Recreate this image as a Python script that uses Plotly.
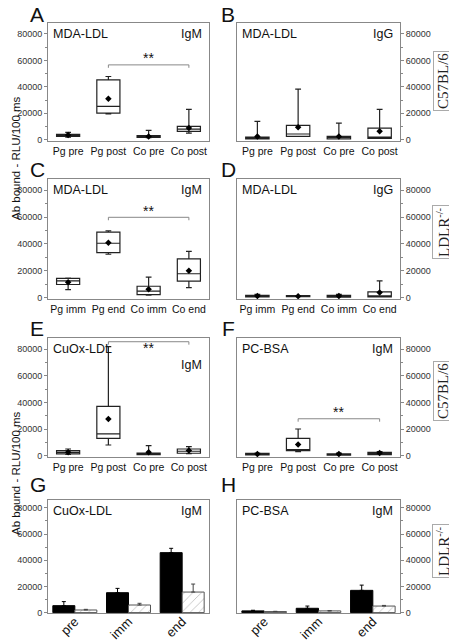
import plotly.graph_objects as go

W, H = 457, 641
OFF = 8  # page body margin: the figure is drawn 8 px in from the window corner
FONT = "Liberation Sans, Arial, sans-serif"

# categories
cats_pp = ["Pg pre", "Pg post", "Co pre", "Co post"]
cats_ie = ["Pg imm", "Pg end", "Co imm", "Co end"]
bar_cats = ["pre", "imm", "end"]

# box statistics (RLU/100 ms)
A_q1 = [2500, 20100, 1800, 6300]
A_med = [3200, 25200, 2400, 8000]
A_q3 = [4000, 45300, 3000, 10000]
A_lo = [2000, 19600, 1500, 5000]
A_hi = [5500, 47800, 7000, 23000]
A_mean = [3500, 31000, 2500, 8800]

B_q1 = [500, 2500, 500, 1000]
B_med = [1200, 4300, 1500, 2000]
B_q3 = [2000, 10800, 2500, 8800]
B_lo = [500, 2500, 500, 1000]
B_hi = [13800, 38200, 12600, 23000]
B_mean = [2500, 9500, 2500, 6300]

C_q1 = [9800, 33500, 2300, 12300]
C_med = [12500, 40500, 4800, 17800]
C_q3 = [14300, 48800, 8500, 28800]
C_lo = [6000, 32300, 1800, 7500]
C_hi = [14500, 49800, 15300, 34500]
C_mean = [11500, 40800, 6300, 20000]

D_q1 = [500, 800, 300, 500]
D_med = [1000, 1100, 1000, 1300]
D_q3 = [1800, 1500, 1800, 4300]
D_lo = [500, 800, 300, 500]
D_hi = [2500, 1500, 2500, 12500]
D_mean = [1200, 1100, 1200, 3800]

E_q1 = [1300, 13000, 800, 1800]
E_med = [2500, 16300, 1300, 3300]
E_q3 = [3800, 37000, 2000, 5000]
E_lo = [1000, 8000, 800, 1500]
E_hi = [5000, 81800, 7500, 6800]
E_mean = [2500, 27500, 2500, 3800]

F_q1 = [500, 3800, 300, 800]
F_med = [1000, 4000, 800, 1500]
F_q3 = [1800, 13000, 1300, 2500]
F_lo = [500, 3000, 300, 800]
F_hi = [2000, 20000, 2000, 3000]
F_mean = [1200, 8300, 1200, 2000]

# bar panels: mean and top of error bar
G_black = [5300, 15200, 45800]
G_black_err = [8400, 18500, 49100]
G_hatch = [2000, 5800, 15700]
G_hatch_err = [2500, 7100, 21800]

H_black = [1300, 3300, 17000]
H_black_err = [1800, 5000, 21000]
H_hatch = [800, 1300, 5000]
H_hatch_err = [1000, 1500, 5500]

# significance brackets: (from, to, level, star level)
sig_A = ("Pg post", "Co post", 56600, 61500)
sig_C = ("Pg end", "Co end", 59800, 64500)
sig_E = ("Pg post", "Co post", 85500, 80500)
sig_F = ("Pg post", "Co post", 27700, 32500)


def px(x):
    return (x - OFF) / W


def py(y):
    return 1 - (y - OFF) / H


left_x = [px(48), px(209)]
right_x = [px(237), px(400)]
rows = [(23, 141), (179, 299), (338, 457), (500, 613)]

fig = go.Figure()

box_panels = [
    (1, cats_pp, A_q1, A_med, A_q3, A_lo, A_hi, A_mean),
    (2, cats_pp, B_q1, B_med, B_q3, B_lo, B_hi, B_mean),
    (3, cats_ie, C_q1, C_med, C_q3, C_lo, C_hi, C_mean),
    (4, cats_ie, D_q1, D_med, D_q3, D_lo, D_hi, D_mean),
    (5, cats_pp, E_q1, E_med, E_q3, E_lo, E_hi, E_mean),
    (6, cats_pp, F_q1, F_med, F_q3, F_lo, F_hi, F_mean),
]

for n, cats, q1, med, q3, lo, hi, mean in box_panels:
    xa = "x" if n == 1 else f"x{n}"
    ya = "y" if n == 1 else f"y{n}"
    fig.add_trace(go.Box(
        x=cats, q1=q1, median=med, q3=q3, lowerfence=lo, upperfence=hi,
        xaxis=xa, yaxis=ya, fillcolor="white",
        line=dict(color="#222", width=1.2), whiskerwidth=0.25,
        showlegend=False, hoverinfo="skip"))
    fig.add_trace(go.Scatter(
        x=cats, y=mean, mode="markers", xaxis=xa, yaxis=ya,
        marker=dict(symbol="diamond", size=5, color="black"),
        showlegend=False, hoverinfo="skip"))

for n, sig in [(1, sig_A), (3, sig_C), (5, sig_E), (6, sig_F)]:
    xa = "x" if n == 1 else f"x{n}"
    ya = "y" if n == 1 else f"y{n}"
    c1, c2, lev, star = sig
    fig.add_trace(go.Scatter(
        x=[c1, c1, c2, c2], y=[lev - 2200, lev, lev, lev - 2200],
        mode="lines", xaxis=xa, yaxis=ya,
        line=dict(color="#888", width=1), showlegend=False, hoverinfo="skip"))
    fig.add_annotation(x=2, y=star, xref=xa, yref=ya, text="**",
                       showarrow=False, font=dict(family=FONT, size=14, color="#111"))

for n, bl, ble, ht, hte in [(7, G_black, G_black_err, G_hatch, G_hatch_err),
                            (8, H_black, H_black_err, H_hatch, H_hatch_err)]:
    xa, ya = f"x{n}", f"y{n}"
    fig.add_trace(go.Bar(
        x=bar_cats, y=bl, xaxis=xa, yaxis=ya,
        marker=dict(color="black", line=dict(color="black", width=1)),
        error_y=dict(type="data", symmetric=False,
                     array=[e - v for e, v in zip(ble, bl)],
                     arrayminus=[0] * len(bl), color="black", thickness=1, width=2),
        showlegend=False, hoverinfo="skip"))
    fig.add_trace(go.Bar(
        x=bar_cats, y=ht, xaxis=xa, yaxis=ya,
        marker=dict(color="white", line=dict(color="#555", width=1),
                    pattern=dict(shape="/", fgcolor="#888", bgcolor="white", size=6, solidity=0.15)),
        error_y=dict(type="data", symmetric=False,
                     array=[e - v for e, v in zip(hte, ht)],
                     arrayminus=[0] * len(ht), color="#444", thickness=1, width=2),
        showlegend=False, hoverinfo="skip"))

layout = dict(
    width=W, height=H, margin=dict(l=0, r=0, t=0, b=0, autoexpand=False),
    paper_bgcolor="white", plot_bgcolor="white",
    font=dict(family=FONT, color="#222"),
    boxgap=0.18, bargap=0.18, bargroupgap=0.0, barmode="group",
)

for n in range(1, 9):
    r = (n - 1) // 2
    right = n % 2 == 0
    key = "" if n == 1 else str(n)
    top, bot = rows[r]
    is_bar = n >= 7
    layout[f"xaxis{key}"] = dict(
        domain=right_x if right else left_x, anchor=f"y{key}", automargin=False,
        type="category", showline=True, mirror=True, linecolor="#888", linewidth=1,
        ticks="", showgrid=False, zeroline=False, fixedrange=True,
        tickangle=-45 if is_bar else 0,
        ticklabelstandoff=-5 if is_bar else 0,
        tickfont=dict(size=13 if is_bar else 10.5, color="#111"),
        range=[-0.5, 2.5] if is_bar else [-0.5, 3.5])
    layout[f"yaxis{key}"] = dict(
        domain=[py(bot), py(top)], anchor=f"x{key}", side="right" if right else "left",
        automargin=False,
        range=[-300, 86000] if is_bar else [-1000, 88300],
        tickvals=[0, 20000, 40000, 60000, 80000], ticktext=["0", "20000", "40000", "60000", "80000"],
        ticks="outside", ticklen=3, tickcolor="#888",
        minor=dict(tickvals=[10000, 30000, 50000, 70000], ticks="outside", ticklen=2, tickcolor="#888"),
        showline=True, mirror=True, linecolor="#888", linewidth=1,
        showgrid=False, zeroline=False, fixedrange=True,
        tickfont=dict(size=9, color="#333"))

fig.update_layout(**layout)

# in-plot texts: antigen and isotype
inner = [(1, "MDA-LDL", "IgM"), (2, "MDA-LDL", "IgG"), (3, "MDA-LDL", "IgM"),
         (4, "MDA-LDL", "IgG"), (5, "CuOx-LDL", "IgM"), (6, "PC-BSA", "IgM"),
         (7, "CuOx-LDL", "IgM"), (8, "PC-BSA", "IgM")]
for n, ag, iso in inner:
    key = "" if n == 1 else str(n)
    fig.add_annotation(x=0.02, y=0.98, xref=f"x{key} domain", yref=f"y{key} domain",
                       text=ag, showarrow=False, xanchor="left", yanchor="top",
                       font=dict(family=FONT, size=12.5, color="#111"))
    iso_y = 0.85 if n == 5 else 0.98
    fig.add_annotation(x=0.97, y=iso_y, xref=f"x{key} domain", yref=f"y{key} domain",
                       text=iso, showarrow=False, xanchor="right", yanchor="top",
                       font=dict(family=FONT, size=12.5, color="#111"))

# panel letters
letters = [("A", 37, 14), ("B", 228, 14), ("C", 38, 170), ("D", 228, 170),
           ("E", 37, 328), ("F", 228, 328), ("G", 38, 484), ("H", 228, 484)]
for t, lx, ly in letters:
    fig.add_annotation(x=px(lx), y=py(ly), xref="paper", yref="paper", text=t,
                       xanchor="center", yanchor="middle", showarrow=False,
                       font=dict(family=FONT, size=21, color="#111"))

# y titles (as far left as the page allows)
for ty in [158, 473]:
    fig.add_annotation(x=0, y=py(ty), xref="paper", yref="paper",
                       text="Ab bound - RLU/100 ms", textangle=-90, showarrow=False,
                       xanchor="left", yanchor="middle",
                       font=dict(family=FONT, size=11.5, color="#111"))

# strain boxes
strains = [("C57BL/6", 81), ("LDLR<sup>-/-</sup>", 232), ("C57BL/6", 391), ("LDLR<sup>-/-</sup>", 551)]
for t, sy in strains:
    fig.add_annotation(x=px(443), y=py(sy), xref="paper", yref="paper", text=t,
                       textangle=-90, showarrow=False, bordercolor="#aaa", borderwidth=1,
                       borderpad=1, bgcolor="white", xanchor="center", yanchor="middle",
                       font=dict(family="Liberation Serif, Times New Roman, serif", size=15, color="#222"))

fig.write_html("out.html")
